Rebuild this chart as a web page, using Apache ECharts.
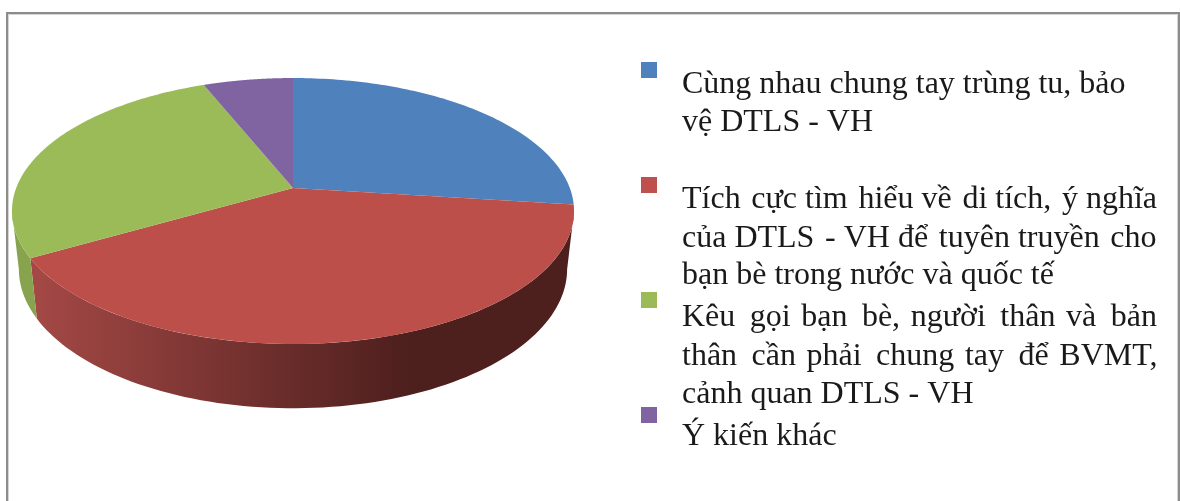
<!DOCTYPE html>
<html>
<head>
<meta charset="utf-8">
<style>
  html, body { margin: 0; padding: 0; background: #fff; }
  #chart { width: 1180px; height: 501px; }
</style>
<script src="https://cdn.jsdelivr.net/npm/echarts@6/dist/echarts.min.js"></script>
</head>
<body>
<div id="chart"></div>
<script>
// percent of each slice
var sliceNames = ["Cùng nhau chung tay", "Tích cực tìm hiểu", "Kêu gọi bạn bè", "Ý kiến khác"];
var sliceValues = [27, 39.7, 27.2, 6.1];
var sliceColors = ["#4F81BD", "#BD4F4B", "#9BBB59", "#8064A2"];
var wallStops = [
  ["#3F6797", "#3F6797"],
  ["#A34845", "#4D1F1D"],
  ["#87A34E", "#87A34E"],
  ["#665082", "#665082"]
];
// thin / hair spaces stand in for the justified lines of the original
var legendLines = [
  ["Cùng nhau chung tay trùng tu, bảo", "vệ DTLS - VH"],
  ["Tích \u200Acực tìm \u200Ahiểu về \u200Adi tích, \u200Aý nghĩa", "của DTLS \u200A- VH để \u200Atuyên truyền \u200Acho", "bạn bè trong nước và quốc tế"],
  ["Kêu \u2009gọi \u200Abạn \u2009bè, \u200Angười \u2009thân \u200Avà \u2009bản", "thân \u2009cần \u200Aphải \u2009chung \u200Atay \u2009để \u200ABVMT,", "cảnh quan DTLS - VH"],
  ["Ý kiến khác"]
];

// tilted disc: the apex sits above the middle of the ellipse because of the perspective
var cx = 293, k = 0.173;
var topDisc = { a: 276.8, b: 129, y0: 188 };
var bottomDisc = { a: 270, b: 135, y0: 245 };
var total = sliceValues.reduce(function (s, v) { return s + v; }, 0);
// the side wall only shows between the two silhouette tangents
var wallFrom = 100 / 180 * Math.PI, wallTo = 260 / 180 * Math.PI;

function project(disc, angle) {
  var u = Math.sin(angle), v = -Math.cos(angle), w = 1 - k * v;
  return [cx + disc.a * u / w, disc.y0 + disc.b * v / w];
}

function sliceRange(index) {
  var before = 0;
  for (var i = 0; i < index; i++) before += sliceValues[i];
  return [before / total * Math.PI * 2, (before + sliceValues[index]) / total * Math.PI * 2];
}

function rim(disc, from, to) {
  var pts = [], steps = 90;
  for (var i = 0; i <= steps; i++) pts.push(project(disc, from + (to - from) * i / steps));
  return pts;
}

function renderWall(params, api) {
  var range = sliceRange(params.dataIndex);
  var from = Math.max(range[0], wallFrom), to = Math.min(range[1], wallTo);
  if (to <= from) return null;
  var pts = rim(topDisc, from, to).concat(rim(bottomDisc, from, to).reverse());
  var stops = wallStops[params.dataIndex];
  var fill = new echarts.graphic.LinearGradient(37, 0, 410, 0, stops.map(function (c, i) {
    return { offset: i / (stops.length - 1), color: c };
  }), true);
  return { type: "polygon", shape: { points: pts }, style: { fill: fill } };
}

function renderTop(params, api) {
  var range = sliceRange(params.dataIndex);
  var pts = [[cx, topDisc.y0]].concat(rim(topDisc, range[0], range[1]));
  return { type: "polygon", shape: { points: pts }, style: { fill: sliceColors[params.dataIndex] } };
}

var seriesData = sliceValues.map(function (v, i) { return { name: sliceNames[i], value: v }; });

var swatchTops = [62, 177, 292, 407];
var lineBaselines = [[93, 131], [208, 247, 284], [326, 365, 403], [445]];
var legendFont = '32px "Liberation Serif", serif';
var graphics = [{
  type: "rect", silent: true,
  shape: { x: 8.5, y: 14.5, width: 1169, height: 520 },
  style: { fill: "none", stroke: "#D4D4D4", lineWidth: 1 }
}, {
  type: "rect", silent: true,
  shape: { x: 7, y: 13, width: 1172, height: 520 },
  style: { fill: "none", stroke: "#8C8C8C", lineWidth: 2 }
}];
legendLines.forEach(function (lines, i) {
  graphics.push({
    type: "rect", shape: { x: 641, y: swatchTops[i], width: 16, height: 16 },
    style: { fill: i == 1 ? "#C0504D" : sliceColors[i] }
  });
  lines.forEach(function (line, j) {
    graphics.push({
      type: "text", x: 682, y: lineBaselines[i][j] + 8,
      style: { text: line, font: legendFont, fill: "#1A1A1A", verticalAlign: "bottom" }
    });
  });
});

var chart = echarts.init(document.getElementById("chart"));
chart.setOption({
  animation: false,
  backgroundColor: "#fff",
  graphic: { elements: graphics },
  series: [
    { type: "custom", coordinateSystem: "none", silent: true, data: seriesData, renderItem: renderWall, z: 1 },
    { type: "custom", coordinateSystem: "none", silent: true, data: seriesData, renderItem: renderTop, z: 2 }
  ]
});
</script>
</body>
</html>
